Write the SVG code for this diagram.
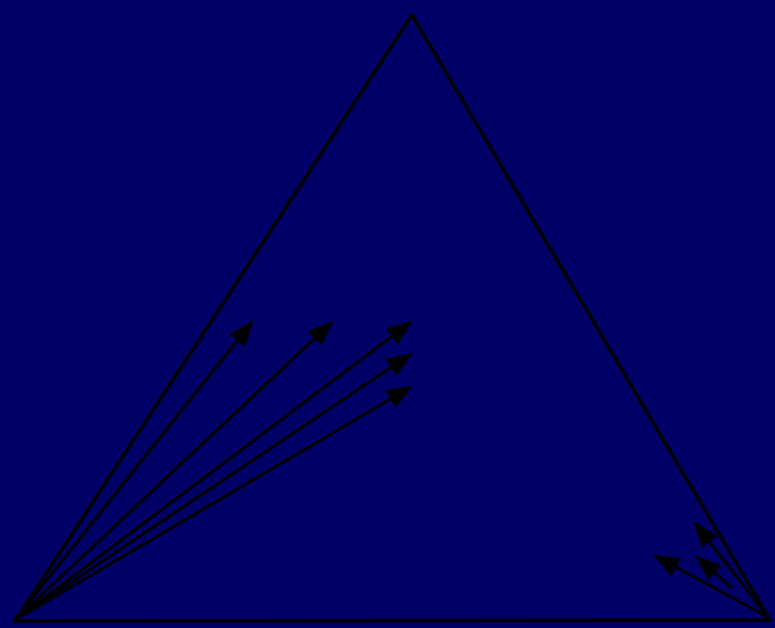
<svg xmlns="http://www.w3.org/2000/svg" width="775" height="628" viewBox="0 0 775 628">
<style>
.edge{stroke:#000;stroke-width:3.5;fill:none}
.arr{stroke:#000;stroke-width:3;fill:none;marker-end:url(#ah)}
</style>
<defs>
<marker id="ah" markerUnits="userSpaceOnUse" markerWidth="26" markerHeight="22" refX="24" refY="10" orient="auto" viewBox="0 0 26 20">
<path d="M0,0 L26,10 L0,20 Z" fill="#000"/>
</marker>
</defs>
<rect width="775" height="628" fill="#000066"/>
<g id="triangle">
<path class="edge" d="M412,15 L15,621 L770,620 Z" stroke-linejoin="miter"/>
</g>
<g id="connectors">
<line class="arr" x1="15" y1="620" x2="252" y2="322"/>
<line class="arr" x1="15" y1="620" x2="332" y2="322"/>
<line class="arr" x1="15" y1="620" x2="411" y2="322"/>
<line class="arr" x1="15" y1="620" x2="411" y2="354"/>
<line class="arr" x1="15" y1="620" x2="411" y2="387"/>
<line class="arr" x1="768" y1="617" x2="695" y2="523"/>
<line class="arr" x1="768" y1="617" x2="655" y2="556"/>
<line class="arr" x1="732" y1="588" x2="697" y2="557"/>
</g>
</svg>
